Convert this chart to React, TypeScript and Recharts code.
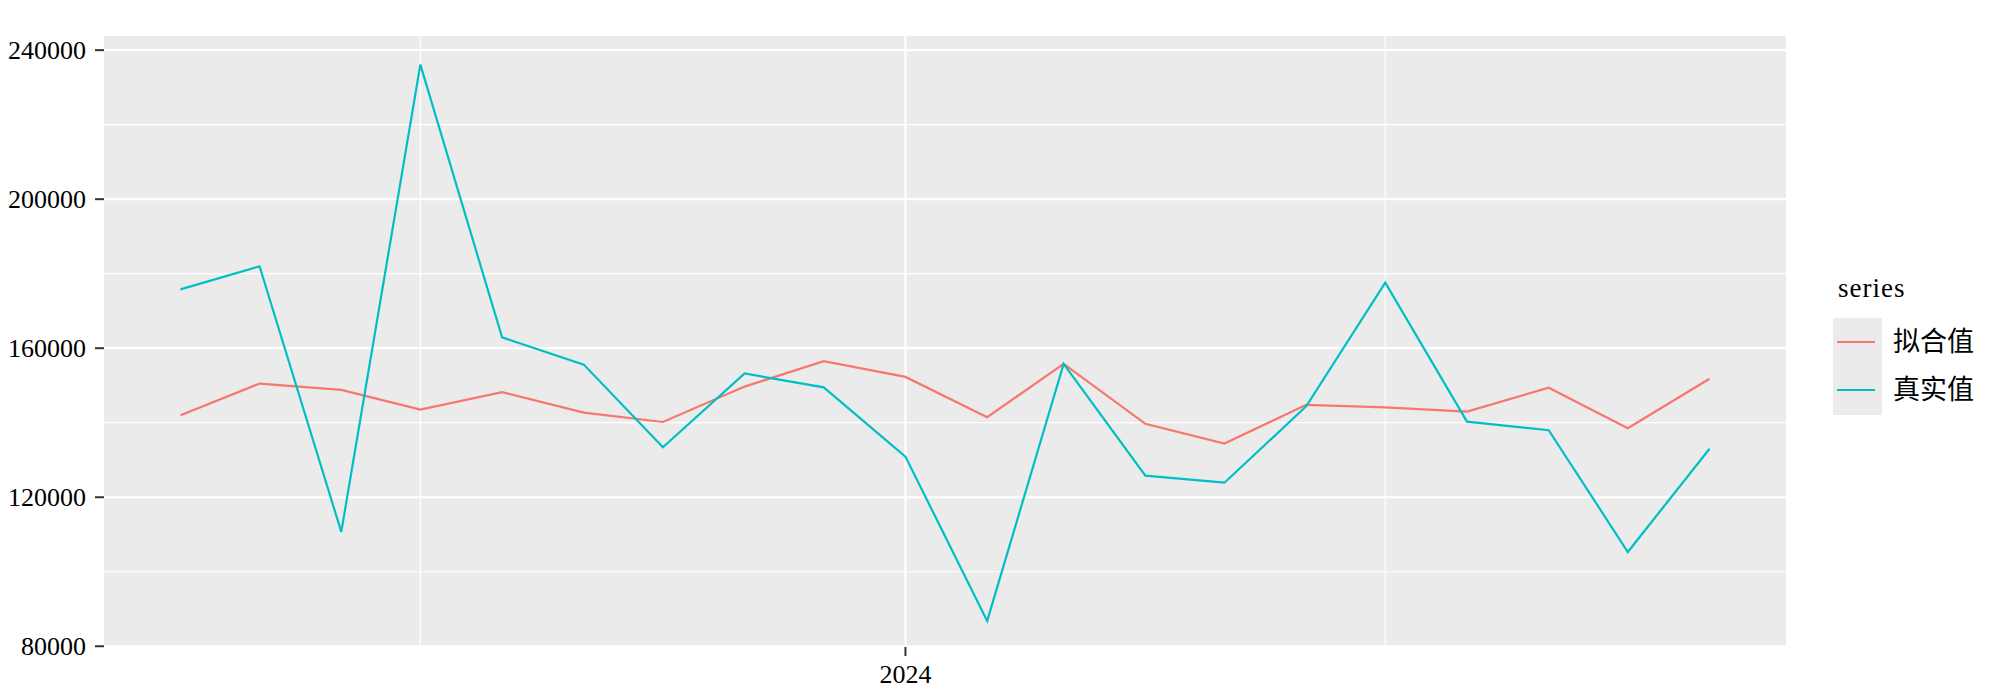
import { LineChart, Line, XAxis, YAxis, CartesianGrid } from 'recharts';

const months = [
  '2023-04', '2023-05', '2023-06', '2023-07', '2023-08', '2023-09', '2023-10',
  '2023-11', '2023-12', '2024-01', '2024-02', '2024-03', '2024-04', '2024-05',
  '2024-06', '2024-07', '2024-08', '2024-09', '2024-10', '2024-11',
];
const fitted = [
  142000, 150500, 148800, 143500, 148200, 142700, 140200, 149700, 156500, 152300,
  141500, 155800, 139700, 134400, 144800, 144100, 143000, 149400, 138500, 151800,
];
const actual = [
  175800, 182000, 110700, 236100, 162900, 155600, 133400, 153200, 149500, 130900,
  86800, 155800, 125800, 123900, 144400, 177600, 140300, 138000, 105300, 133000,
];
const yMajor = [80000, 120000, 160000, 200000, 240000];
const yMinor = [100000, 140000, 180000, 220000];
const xMajor = ['2024-01'];
const xMinor = ['2023-07', '2024-07'];
const seriesNames = ['拟合值', '真实值'];

const DAY = 24 * 3600 * 1000;
const toTime = (m: string) => {
  const [y, mo] = m.split('-');
  return Date.UTC(Number(y), Number(mo) - 1, 1);
};

const colors = ['#F8766D', '#00BFC4'];
const serif = '"Liberation Serif", "Times New Roman", serif';

const data = months.map((m, i) => ({
  t: toTime(m),
  fitted: fitted[i],
  actual: actual[i],
}));

const xDomain = [toTime(months[0]) - 29 * DAY, toTime(months[months.length - 1]) + 29 * DAY];

// ggplot-style legend box on the right
function SeriesLegend() {
  return (
    <svg width={170} height={170} style={{ position: 'absolute', left: 1830, top: 260 }}>
      <text x={8} y={37} fontSize={27} fontFamily={serif} fill="#000" letterSpacing={1}>
        series
      </text>
      <rect x={3} y={58} width={49} height={97} fill="#EBEBEB" />
      {seriesNames.map((name, i) => (
        <g key={name}>
          <line x1={7} x2={45} y1={82 + i * 48} y2={82 + i * 48} stroke={colors[i]} strokeWidth={2.2} />
          <text
            x={63}
            y={82 + i * 48}
            dy="0.35em"
            fontSize={27}
            fontFamily='"Noto Sans CJK SC", sans-serif'
            fill="#000"
          >
            {name}
          </text>
        </g>
      ))}
    </svg>
  );
}

export default function App() {
  return (
    <div style={{ position: 'absolute', left: 0, top: 0, width: 2000, height: 689, background: '#fff' }}>
      <LineChart width={2000} height={689} data={data} margin={{ top: 36, right: 214, left: 0, bottom: 0 }}>
        <CartesianGrid
          fill="#EBEBEB"
          fillOpacity={1}
          stroke="#FFFFFF"
          strokeWidth={1.2}
          horizontalValues={yMinor}
          verticalValues={xMinor.map(toTime)}
        />
        <CartesianGrid
          stroke="#FFFFFF"
          strokeWidth={2.2}
          horizontalValues={yMajor}
          verticalValues={xMajor.map(toTime)}
        />
        <XAxis
          dataKey="t"
          type="number"
          domain={xDomain}
          allowDataOverflow
          ticks={xMajor.map(toTime)}
          tickFormatter={(v: number) => String(new Date(v).getUTCFullYear())}
          height={42}
          tickSize={9}
          tickMargin={9}
          axisLine={false}
          tickLine={{ stroke: '#333333', strokeWidth: 2 }}
          tick={{ fill: '#000', fontSize: 26, fontFamily: serif }}
        />
        <YAxis
          type="number"
          domain={[79800, 243800]}
          allowDataOverflow
          ticks={yMajor}
          width={104}
          tickSize={9}
          tickMargin={9}
          axisLine={false}
          tickLine={{ stroke: '#333333', strokeWidth: 2 }}
          tick={{ fill: '#000', fontSize: 26, fontFamily: serif }}
        />
        <Line
          type="linear"
          dataKey="fitted"
          name={seriesNames[0]}
          stroke={colors[0]}
          strokeWidth={2.2}
          dot={false}
          isAnimationActive={false}
        />
        <Line
          type="linear"
          dataKey="actual"
          name={seriesNames[1]}
          stroke={colors[1]}
          strokeWidth={2.2}
          dot={false}
          isAnimationActive={false}
        />
      </LineChart>
      <SeriesLegend />
    </div>
  );
}
